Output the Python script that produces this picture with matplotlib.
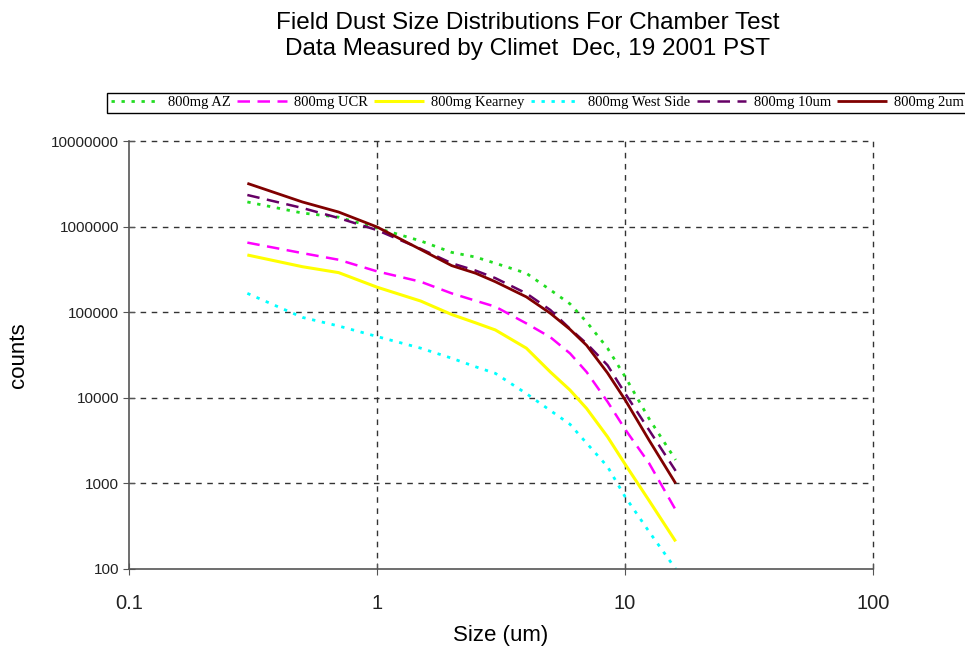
import matplotlib
matplotlib.use("Agg")
import matplotlib.pyplot as plt
from matplotlib.ticker import FixedLocator, FixedFormatter, NullLocator

sizes = [0.3, 0.5, 0.7, 1.0, 1.5, 2.0, 2.5, 3.0, 4.0, 5.0, 6.0, 7.0, 8.5, 10.0, 12.5, 16.0]

az = [1.94e6, 1.44e6, 1.29e6, 9.6e5, 6.8e5, 5.0e5, 4.4e5, 3.73e5, 2.85e5, 1.82e5, 1.25e5, 7.7e4, 3.8e4, 1.77e4, 5.7e3, 1.88e3]
ucr = [6.5e5, 4.9e5, 4.1e5, 3.0e5, 2.27e5, 1.66e5, 1.36e5, 1.16e5, 7.4e4, 5.1e4, 3.3e4, 2.0e4, 9.0e3, 4.3e3, 1.72e3, 490]
kearney = [4.66e5, 3.4e5, 2.9e5, 1.96e5, 1.35e5, 9.4e4, 7.5e4, 6.2e4, 3.8e4, 2.0e4, 1.23e4, 7.5e3, 3.5e3, 1.68e3, 630, 210]
westside = [1.66e5, 8.7e4, 6.9e4, 5.2e4, 3.8e4, 2.9e4, 2.3e4, 1.93e4, 1.12e4, 7.1e3, 4.9e3, 2.95e3, 1.57e3, 700, 273, 100]
um10 = [2.34e6, 1.65e6, 1.26e6, 9.1e5, 5.5e5, 3.73e5, 3.06e5, 2.5e5, 1.66e5, 1.06e5, 6.4e4, 4.3e4, 2.4e4, 1.13e4, 4.2e3, 1.4e3]
um2 = [3.2e6, 1.94e6, 1.48e6, 9.9e5, 5.4e5, 3.5e5, 2.85e5, 2.27e5, 1.51e5, 9.7e4, 6.3e4, 4.1e4, 1.95e4, 9.5e3, 3.2e3, 1.0e3]

labels = ["800mg AZ", "800mg UCR", "800mg Kearney", "800mg West Side", "800mg 10um", "800mg 2um"]
colors = ["#22DD22", "#FF00FF", "#FFFF00", "#00FFFF", "#660066", "#800000"]
styles = [(0, (1.2, 2.4)), (0, (5, 3)), "-", (0, (1.2, 2.4)), (0, (5, 3)), "-"]
widths = [2.0, 1.8, 2.2, 2.0, 1.8, 2.0]
series = [az, ucr, kearney, westside, um10, um2]

fig = plt.figure(figsize=(9.65, 6.51), dpi=100)
ax = fig.add_axes([0.1337, 0.1260, 0.9047 - 0.1337, 0.7834 - 0.1260])

handles = []
for vals, lab, c, ls, lw in zip(series, labels, colors, styles, widths):
    h, = ax.plot(sizes, vals, color=c, ls=ls, lw=lw, label=lab, solid_capstyle="butt",
                 solid_joinstyle="round")
    handles.append(h)

ax.set_xscale("log")
ax.set_yscale("log")
ax.set_xlim(0.1, 100)
ax.set_ylim(100, 1e7)

xt = [0.1, 1, 10, 100]
yt = [100, 1000, 10000, 100000, 1000000, 10000000]
ax.xaxis.set_major_locator(FixedLocator(xt))
ax.xaxis.set_major_formatter(FixedFormatter(["0.1", "1", "10", "100"]))
ax.xaxis.set_minor_locator(NullLocator())
ax.yaxis.set_major_locator(FixedLocator(yt))
ax.yaxis.set_major_formatter(FixedFormatter([str(v) for v in yt]))
ax.yaxis.set_minor_locator(NullLocator())

ax.grid(True, which="major", color="#333333", ls=(0, (4, 4)), lw=1.0)
xg = ax.get_xgridlines()
yg = ax.get_ygridlines()
for gl in xg + yg:
    gl.set_clip_on(False)
xg[0].set_visible(False)
yg[0].set_visible(False)
for s in ["top", "right"]:
    ax.spines[s].set_visible(False)
for s in ["left", "bottom"]:
    ax.spines[s].set_color("#555555")
    ax.spines[s].set_linewidth(1.2)

ax.tick_params(axis="y", direction="inout", length=8, color="#555555", labelsize=11, labelcolor="#222222", pad=3)
ax.tick_params(axis="x", direction="inout", length=8, color="#555555", labelsize=14.5, labelcolor="#222222", pad=14)
for t in ax.get_xticklabels() + ax.get_yticklabels():
    t.set_fontfamily("Liberation Sans")

ax.set_xlabel("Size (um)", fontsize=16, fontfamily="Liberation Sans", labelpad=9)
ax.set_ylabel("counts", fontsize=16, fontfamily="Liberation Sans", labelpad=16)

fig.text(0.547, 0.965, "Field Dust Size Distributions For Chamber Test", ha="center", va="center",
         fontsize=17.5, fontfamily="Liberation Sans")
fig.text(0.547, 0.925, "Data Measured by Climet  Dec, 19 2001 PST", ha="center", va="center",
         fontsize=17.5, fontfamily="Liberation Sans")

leg = fig.legend(handles=handles, loc="center left", bbox_to_anchor=(0.111, 0.842), ncol=6,
                 frameon=True, fancybox=False, edgecolor="black", framealpha=1,
                 prop={"family": "Liberation Serif", "size": 10.5},
                 handlelength=3.4, handletextpad=0.5, columnspacing=0.45, borderpad=0.25,
                 borderaxespad=0)
leg.get_frame().set_linewidth(1.0)

fig.savefig("out.png", dpi=100)
